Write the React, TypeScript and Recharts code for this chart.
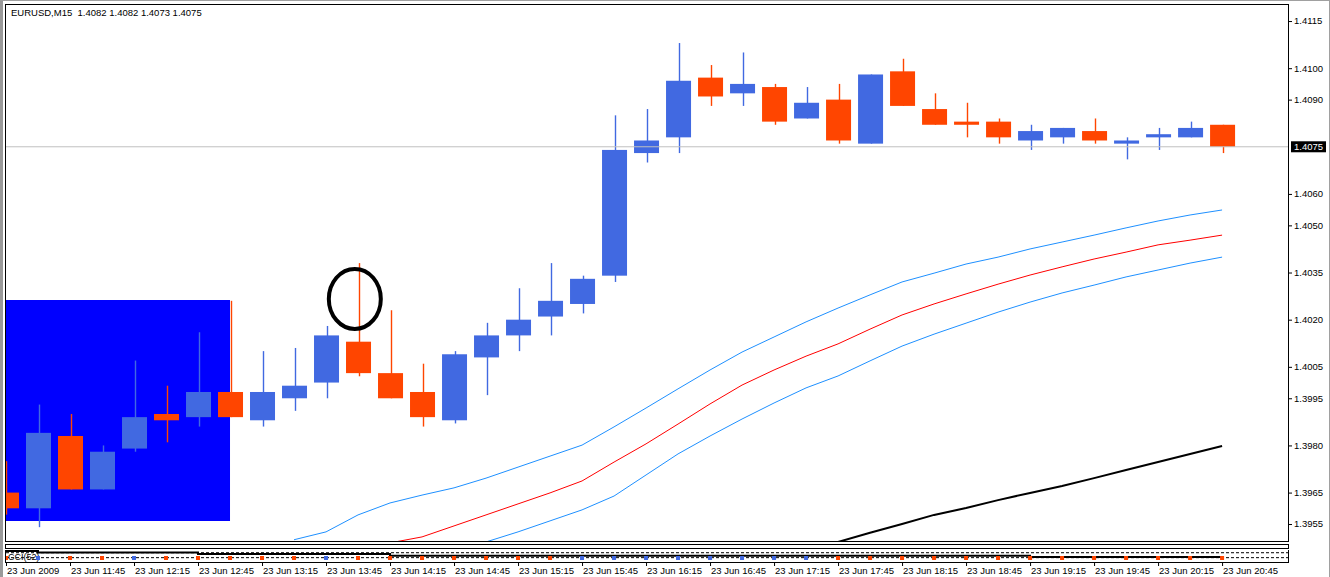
import React from "react";
import {
  Bar,
  ComposedChart,
  Line,
  ReferenceArea,
  ReferenceDot,
  ReferenceLine,
  Scatter,
  XAxis,
  YAxis,
} from "recharts";

const FONT = "'Liberation Sans', Arial, sans-serif";
const BULL = "#4169E1";
const BEAR = "#FF4500";

// EURUSD M15, 23 Jun 2009, one value per candle from 11:15 to 20:45
const opens = [
  1.3965, 1.396, 1.3983, 1.3966, 1.3979, 1.399, 1.3989, 1.3997, 1.3988, 1.3995,
  1.4, 1.4013, 1.4003, 1.3997, 1.3988, 1.4008, 1.4015, 1.4021, 1.4025, 1.4034,
  1.4073, 1.4078, 1.4097, 1.4092, 1.4094, 1.4084, 1.409, 1.4076, 1.4099, 1.4087,
  1.4083, 1.4083, 1.4077, 1.4078, 1.408, 1.4076, 1.4078, 1.4078, 1.4082,
];
const highs = [
  1.3975, 1.3993, 1.399, 1.398, 1.4007, 1.3999, 1.4016, 1.4026, 1.401, 1.4011,
  1.4018, 1.4038, 1.4023, 1.4006, 1.401, 1.4019, 1.403, 1.4038, 1.4034, 1.4085,
  1.4087, 1.4108, 1.4101, 1.4105, 1.4095, 1.4094, 1.4095, 1.4098, 1.4103, 1.4092,
  1.4089, 1.4084, 1.4082, 1.4081, 1.4084, 1.4078, 1.4081, 1.4083, 1.4082,
];
const lows = [
  1.3958, 1.3954, 1.3966, 1.3966, 1.3978, 1.3981, 1.3986, 1.3989, 1.3986, 1.3991,
  1.3995, 1.4002, 1.3995, 1.3986, 1.3987, 1.3996, 1.401, 1.4015, 1.4022, 1.4032,
  1.407, 1.4073, 1.4088, 1.4088, 1.4082, 1.4084, 1.4076, 1.4076, 1.4088, 1.4082,
  1.4078, 1.4076, 1.4074, 1.4076, 1.4076, 1.4071, 1.4074, 1.4078, 1.4073,
];
const closes = [
  1.396, 1.3984, 1.3966, 1.3978, 1.3989, 1.3988, 1.3997, 1.3989, 1.3997, 1.3999,
  1.4015, 1.4003, 1.3995, 1.3989, 1.4009, 1.4015, 1.402, 1.4026, 1.4033, 1.4074,
  1.4077, 1.4096, 1.4091, 1.4095, 1.4083, 1.4089, 1.4077, 1.4098, 1.4088, 1.4082,
  1.4082, 1.4078, 1.408, 1.4081, 1.4077, 1.4077, 1.4079, 1.4081, 1.4075,
];

const maUpper = [
  null, null, null, null, null, null, null, null, null, 1.395,
  1.39525, 1.39579, 1.39617, 1.39642, 1.39665, 1.39696, 1.39731, 1.39766, 1.39801, 1.39859,
  1.39919, 1.3998, 1.4004, 1.40097, 1.40145, 1.40193, 1.40237, 1.40279, 1.4032, 1.40348,
  1.40377, 1.40399, 1.40425, 1.40447, 1.40469, 1.40492, 1.40514, 1.40533, 1.40549,
];
const maMid = [
  null, null, null, null, null, null, null, null, null, null,
  null, null, 1.3949, 1.39509, 1.39544, 1.39579, 1.39614, 1.39649, 1.39687, 1.39747,
  1.39805, 1.39868, 1.39932, 1.39992, 1.4004, 1.40084, 1.40123, 1.4017, 1.40215, 1.4025,
  1.40282, 1.40313, 1.40342, 1.40368, 1.40393, 1.40415, 1.40438, 1.40453, 1.40469,
];
const maLower = [
  null, null, null, null, null, null, null, null, null, null,
  null, null, null, null, null, 1.39493, 1.39525, 1.3956, 1.39595, 1.39639,
  1.39706, 1.39773, 1.3983, 1.39884, 1.39935, 1.39983, 1.40021, 1.40069, 1.40116, 1.40154,
  1.40189, 1.40224, 1.40256, 1.40285, 1.4031, 1.40336, 1.40358, 1.4038, 1.40399,
];
const maSlow = [
  null, null, null, null, null, null, null, null, null, null,
  null, null, null, null, null, null, null, null, null, null,
  null, null, null, null, null, null, 1.39493, 1.39522, 1.3955, 1.39579,
  1.39601, 1.39626, 1.39649, 1.39671, 1.39696, 1.39722, 1.39747, 1.39773, 1.39798,
];

// squashed CCI(52) sub-window
const cciLine = [
  9.2, 8, 8, 8, 8, 8, 6.9, 6.9, 6.9, 6.9,
  6.9, 6.9, 5.6, 5.6, 5.6, 5.6, 5.6, 5.6, 5.6, 5.6,
  5.6, 5.6, 5.6, 5.6, 5.6, 5.6, 5.6, 5.6, 5.6, 5.6,
  5.6, 5.6, 4.6, 4.6, 4.6, 4.6, 4.6, 4.6, 4.6,
];
const cciSign = [
  -1, 1, -1, -1, 1, -1, -1, -1, -1, -1,
  1, -1, -1, -1, -1, -1, -1, -1, 1, 1,
  1, 1, 1, 1, 1, 1, -1, -1, -1, -1,
  -1, -1, -1, -1, -1, -1, -1, -1, -1,
];
const cciLevels = [7.9, 4.1];

const xTickIndex = [0, 2, 4, 6, 8, 10, 12, 14, 16, 18, 20, 22, 24, 26, 28, 30, 32, 34, 36, 38];
const xTickLabels = [
  "23 Jun 2009", "23 Jun 11:45", "23 Jun 12:15", "23 Jun 12:45", "23 Jun 13:15",
  "23 Jun 13:45", "23 Jun 14:15", "23 Jun 14:45", "23 Jun 15:15", "23 Jun 15:45",
  "23 Jun 16:15", "23 Jun 16:45", "23 Jun 17:15", "23 Jun 17:45", "23 Jun 18:15",
  "23 Jun 18:45", "23 Jun 19:15", "23 Jun 19:45", "23 Jun 20:15", "23 Jun 20:45",
];
const yTicks = [
  1.4115, 1.41, 1.409, 1.4075, 1.406, 1.405, 1.4035, 1.402, 1.4005, 1.3995, 1.398, 1.3965, 1.3955,
];

const lastPrice = 1.4075;
const title = "EURUSD,M15  1.4082 1.4082 1.4073 1.4075";
const boxArea = { x1: 0, x2: 7, y1: 1.3956, y2: 1.40263 };
const circleMark = { x: 10.9, y: 1.40266 };

const X_DOMAIN: [number, number] = [0, 40.06];
const Y_DOMAIN: [number, number] = [1.39496, 1.41201];

const rows = opens.map((o, i) => ({
  i,
  o,
  h: highs[i],
  l: lows[i],
  c: closes[i],
  range: [lows[i], highs[i]],
  ma1: maUpper[i],
  ma2: maMid[i],
  ma3: maLower[i],
  ma4: maSlow[i],
  cci: cciLine[i],
  sign: cciSign[i],
  mark: 3.85,
}));

function Candle(props: any) {
  const { x, y, width, height, payload } = props;
  if (x == null || !payload) return null;
  const { o, h, l, c } = payload;
  const top = height < 0 ? y + height : y;
  const span = Math.abs(height);
  const py = (v: number) => top + ((h - v) / (h - l || 1)) * span;
  const bodyTop = py(Math.max(o, c));
  const bodyBot = py(Math.min(o, c));
  const color = c > o ? BULL : BEAR;
  const wx = Math.round(x + width / 2);
  return (
    <g>
      <rect x={wx - 0.2} y={top} width={1.4} height={span} fill={color} />
      <rect x={x} y={bodyTop} width={width} height={Math.max(bodyBot - bodyTop, 1)} fill={color} />
    </g>
  );
}

function XTick(props: any) {
  const { x, y, payload } = props;
  const k = xTickIndex.indexOf(payload.value);
  return (
    <g>
      <line x1={x + 0.5} x2={x + 0.5} y1={y + 21} y2={y + 25} stroke="#000" />
      <text x={x + 1} y={y + 33} fontSize={9.5} fontFamily={FONT} fill="#000">
        {xTickLabels[k]}
      </text>
    </g>
  );
}

function YTick(props: any) {
  const { x, y, payload } = props;
  const v = payload.value;
  const label = v.toFixed(4);
  if (v === lastPrice) {
    return (
      <g>
        <rect x={x + 3} y={y - 5.5} width={35} height={11} fill="#000" />
        <text x={x + 6} y={y} dy="0.35em" fontSize={9.5} fontFamily={FONT} fill="#fff">
          {label}
        </text>
      </g>
    );
  }
  return (
    <g>
      <line x1={x + 1} x2={x + 4} y1={y + 0.5} y2={y + 0.5} stroke="#000" />
      <text x={x + 6} y={y} dy="0.35em" fontSize={9.5} fontFamily={FONT} fill="#000">
        {label}
      </text>
    </g>
  );
}

function CciMark(props: any) {
  const { cx, cy, payload } = props;
  if (cx == null) return null;
  return <rect x={cx - 2} y={cy - 2} width={4} height={4} fill={payload.sign > 0 ? BULL : BEAR} />;
}

const line = (color: string, w = 1) => ({
  stroke: color,
  strokeWidth: w,
  dot: false,
  activeDot: false,
  isAnimationActive: false,
  type: "linear" as const,
});

export default function App() {
  return (
    <div
      style={{
        position: "absolute",
        left: 0,
        top: 0,
        width: 1330,
        height: 577,
        background: "#fff",
        overflow: "hidden",
        fontFamily: FONT,
      }}
    >
      <ComposedChart width={1330} height={577} data={rows} margin={{ top: 5, right: 0, bottom: 0, left: 6 }}>
        <XAxis
          type="number"
          dataKey="i"
          domain={X_DOMAIN}
          ticks={xTickIndex}
          interval={0}
          allowDataOverflow
          height={36}
          tickSize={0}
          tickMargin={0}
          axisLine={false}
          tick={<XTick />}
        />
        <YAxis
          orientation="right"
          domain={Y_DOMAIN}
          ticks={yTicks}
          interval={0}
          allowDataOverflow
          width={42}
          tickSize={0}
          tickMargin={0}
          axisLine={false}
          tick={<YTick />}
        />
        <ReferenceArea
          x1={boxArea.x1}
          x2={boxArea.x2}
          y1={boxArea.y1}
          y2={boxArea.y2}
          fill="#0000FF"
          fillOpacity={1}
          stroke="none"
          ifOverflow="hidden"
        />
        <ReferenceLine y={lastPrice} stroke="#c0c0c0" />
        <Line dataKey="ma1" {...line("#1E90FF")} />
        <Line dataKey="ma2" {...line("#FF0000")} />
        <Line dataKey="ma3" {...line("#1E90FF")} />
        <Line dataKey="ma4" {...line("#000000", 2)} />
        <Bar dataKey="range" barSize={25} shape={<Candle />} isAnimationActive={false} />
        <ReferenceDot
          x={circleMark.x}
          y={circleMark.y}
          r={30}
          ifOverflow="visible"
          shape={(p: any) => (
            <ellipse cx={p.cx} cy={p.cy} rx={26} ry={30} fill="none" stroke="#000" strokeWidth={4} />
          )}
        />
      </ComposedChart>

      <div
        style={{
          position: "absolute",
          left: 11,
          top: 7,
          fontSize: 9.5,
          color: "#000",
          whiteSpace: "pre",
          lineHeight: "11px",
        }}
      >
        {title}
      </div>

      <div style={{ position: "absolute", left: 0, top: 0, width: 3, height: 577, background: "#9a9a9a" }} />
      <div style={{ position: "absolute", left: 0, top: 0, width: 1330, height: 1, background: "#a0a0a0" }} />
      <div style={{ position: "absolute", left: 1329, top: 0, width: 1, height: 577, background: "#a0a0a0" }} />
      <div
        style={{
          position: "absolute",
          left: 5,
          top: 4,
          width: 1284,
          height: 538,
          border: "1px solid #000",
          boxSizing: "border-box",
        }}
      />
      <div
        style={{
          position: "absolute",
          left: 5,
          top: 544,
          width: 1284,
          height: 5,
          border: "1px solid #000",
          boxSizing: "border-box",
        }}
      />
      <div
        style={{
          position: "absolute",
          left: 5,
          top: 550,
          width: 1284,
          height: 13,
          borderLeft: "1px solid #000",
          borderRight: "1px solid #000",
          borderBottom: "1px solid #000",
          boxSizing: "border-box",
        }}
      />
      <div style={{ position: "absolute", left: 8, top: 552, fontSize: 9, color: "#000", lineHeight: "10px" }}>
        CCI(52)
      </div>

      <div style={{ position: "absolute", left: 0, top: 550 }}>
        <ComposedChart width={1330} height={13} data={rows} margin={{ top: 0, right: 42, bottom: 0, left: 6 }}>
          <XAxis type="number" dataKey="i" domain={X_DOMAIN} hide allowDataOverflow />
          <YAxis domain={[0, 10]} hide allowDataOverflow />
          {cciLevels.map((v) => (
            <ReferenceLine key={v} y={v} stroke="#000" strokeDasharray="3 2" />
          ))}
          <Line dataKey="cci" {...line("#000000", 2)} type="stepAfter" />
          <Scatter dataKey="mark" shape={<CciMark />} isAnimationActive={false} />
        </ComposedChart>
      </div>
    </div>
  );
}
